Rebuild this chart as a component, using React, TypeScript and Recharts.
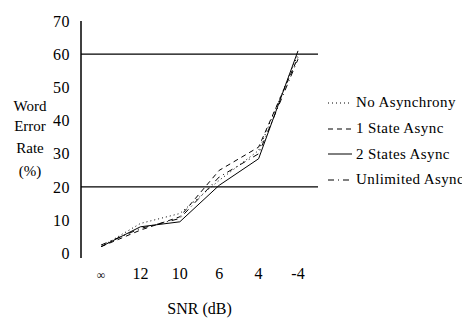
import { Line, LineChart, ReferenceLine, XAxis, YAxis } from "recharts";

const snrLabels = ["∞", "12", "10", "6", "4", "-4"];
const noAsync = [2, 9, 12, 22, 31, 60];
const oneState = [2, 7, 11, 25, 32, 59];
const twoStates = [2, 8, 9.5, 20.5, 28.5, 61];
const unlimited = [2.5, 7.5, 10.5, 23, 30, 58.5];
const yTicks = [0, 10, 20, 30, 40, 50, 60, 70];

const series = [
  { key: "noAsync", name: "No Asynchrony", dash: "1 3" },
  { key: "oneState", name: "1 State Async", dash: "5 4" },
  { key: "twoStates", name: "2 States Async", dash: undefined },
  { key: "unlimited", name: "Unlimited Async", dash: "6 4 1 4" },
];

const data = snrLabels.map((snr, i) => ({
  snr,
  noAsync: noAsync[i],
  oneState: oneState[i],
  twoStates: twoStates[i],
  unlimited: unlimited[i],
}));

const font = "'Liberation Serif', serif";

const XTick = (props: any) => {
  const { x, y, payload } = props;
  const isInf = payload.value === "∞";
  return (
    <text
      x={x}
      y={y + 13}
      textAnchor="middle"
      fontFamily={font}
      fontSize={isInf ? 12 : 16}
      fill="#000"
    >
      {payload.value}
    </text>
  );
};

const YLabel = () => (
  <text fontFamily={font} fontSize={15} fill="#000" textAnchor="middle">
    <tspan x={30} y={111}>Word</tspan>
    <tspan x={30} y={131}>Error</tspan>
    <tspan x={30} y={153}>Rate</tspan>
    <tspan x={30} y={176}>(%)</tspan>
  </text>
);

const LegendBox = () => (
  <div
    style={{
      position: "absolute",
      left: 326,
      top: 90,
      width: 136,
      overflow: "hidden",
      fontFamily: font,
      fontSize: 15,
      letterSpacing: 0.4,
      color: "#000",
    }}
  >
    {series.map((s) => (
      <div
        key={s.key}
        style={{ display: "flex", alignItems: "center", height: 25.7, whiteSpace: "nowrap" }}
      >
        <svg width={28} height={10} style={{ marginRight: 2, flexShrink: 0 }}>
          <line x1={2} y1={5} x2={26} y2={5} stroke="#000" strokeDasharray={s.dash} />
        </svg>
        <span>{s.name}</span>
      </div>
    ))}
  </div>
);

export default function App() {
  return (
    <div style={{ position: "absolute", left: 0, top: 0, width: 462, height: 321, background: "#fff" }}>
      <LineChart
        width={462}
        height={321}
        data={data}
        margin={{ top: 21, right: 144, bottom: 0, left: 0 }}
      >
        <XAxis
          dataKey="snr"
          axisLine={false}
          tickLine={false}
          tick={<XTick />}
          padding={{ left: 20, right: 20 }}
          interval={0}
          height={63}
          label={{
            value: "SNR (dB)",
            position: "insideBottom",
            offset: 7,
            fontFamily: font,
            fontSize: 16,
            fill: "#000",
          }}
        />
        <YAxis
          domain={[-1.4, 70]}
          ticks={yTicks}
          interval={0}
          width={81}
          tickLine={false}
          tickMargin={5}
          axisLine={{ stroke: "#000", strokeWidth: 1.5 }}
          tick={{ fontFamily: font, fontSize: 16, fill: "#000", letterSpacing: 0.5 }}
          label={<YLabel />}
        />
        <ReferenceLine y={60} stroke="#000" strokeWidth={1.3} />
        <ReferenceLine y={20} stroke="#000" strokeWidth={1.3} />
        {series.map((s) => (
          <Line
            key={s.key}
            dataKey={s.key}
            name={s.name}
            stroke="#000"
            strokeWidth={1}
            strokeDasharray={s.dash}
            dot={false}
            isAnimationActive={false}
          />
        ))}
      </LineChart>
      <LegendBox />
    </div>
  );
}
